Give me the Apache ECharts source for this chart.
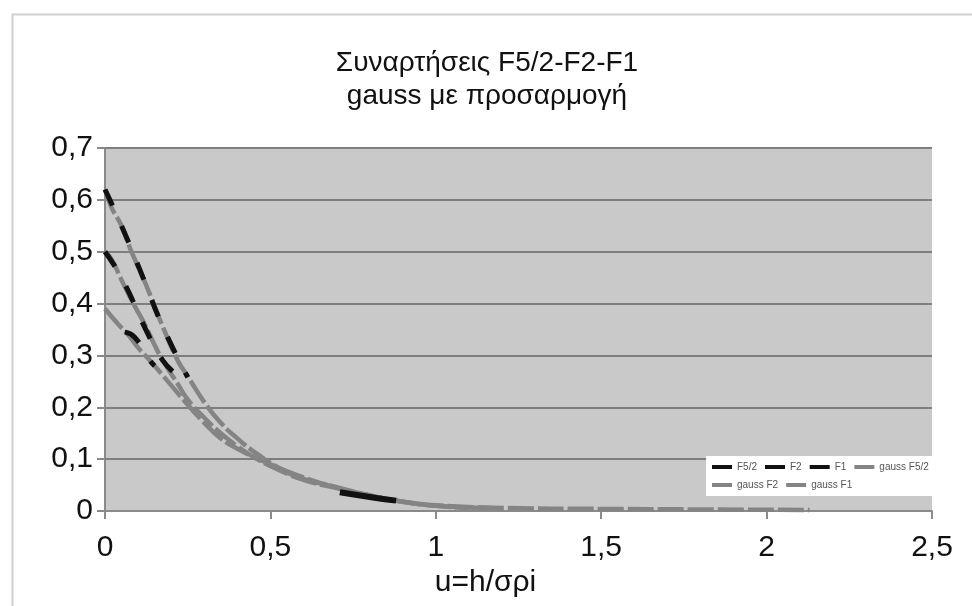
<!DOCTYPE html>
<html>
<head>
<meta charset="utf-8">
<script src="https://cdn.jsdelivr.net/npm/echarts@6/dist/echarts.min.js"></script>
<style>
  html, body { margin: 0; padding: 0; background: #ffffff; }
  #chart { width: 972px; height: 606px; }
</style>
</head>
<body>
<div id="chart"></div>
<script>
// Axis ticks
const xTicks = [0, 0.5, 1, 1.5, 2, 2.5];
const yTicks = [0, 0.1, 0.2, 0.3, 0.4, 0.5, 0.6, 0.7];

// Gauss fits (u, F)
const fitU_F52 = [0, 0.02, 0.05, 0.08, 0.115, 0.15, 0.175, 0.22, 0.25, 0.3, 0.35, 0.4, 0.46, 0.54, 0.6, 0.7, 0.8, 0.9, 1.0, 1.2, 1.5, 1.8, 2.13];
const fitF_F52 = [0.62, 0.585, 0.55, 0.5, 0.45, 0.395, 0.355, 0.29, 0.26, 0.21, 0.17, 0.14, 0.11, 0.078, 0.062, 0.046, 0.03, 0.018, 0.011, 0.006, 0.004, 0.003, 0.002];

const fitU_F2 = [0, 0.02, 0.054, 0.09, 0.12, 0.15, 0.175, 0.22, 0.25, 0.3, 0.35, 0.4, 0.46, 0.54, 0.6, 0.7, 0.8, 0.9, 1.0, 1.2];
const fitF_F2 = [0.5, 0.485, 0.44, 0.395, 0.36, 0.32, 0.29, 0.245, 0.215, 0.18, 0.15, 0.125, 0.1, 0.075, 0.06, 0.044, 0.03, 0.018, 0.01, 0.005];

const fitU_F1 = [0, 0.04, 0.07, 0.1, 0.136, 0.19, 0.25, 0.3, 0.35, 0.4, 0.5, 0.6, 0.7, 0.8, 0.9, 1.0, 1.1];
const fitF_F1 = [0.39, 0.36, 0.34, 0.315, 0.29, 0.25, 0.205, 0.17, 0.14, 0.12, 0.09, 0.065, 0.045, 0.03, 0.018, 0.01, 0.006];

// Computed functions (u, F)
const calcU_F52 = [0, 0.05, 0.115, 0.175, 0.25];
const calcF_F52 = [0.62, 0.55, 0.45, 0.355, 0.258];
const tailU_F52 = [0.71, 0.8, 0.88];
const tailF_F52 = [0.036, 0.027, 0.02];

const calcU_F2 = [0, 0.054, 0.127, 0.175, 0.218];
const calcF_F2 = [0.5, 0.445, 0.345, 0.29, 0.262];

const calcU_F1 = [0.06, 0.09, 0.136, 0.15];
const calcF_F1 = [0.345, 0.335, 0.29, 0.28];

const zip = (u, f) => u.map((x, i) => [x, f[i]]);
const comma = v => String(v).replace('.', ',');

const fitLine = (name, u, f) => ({
  name, type: 'line', data: zip(u, f), showSymbol: false, smooth: true,
  lineStyle: { color: '#848484', width: 4.5, type: [26, 4] }, itemStyle: { color: '#848484' }, z: 2
});
const calcLine = (name, u, f, dash, width) => ({
  name, type: 'line', data: zip(u, f), showSymbol: false, smooth: true,
  lineStyle: { color: '#111111', width: width || 5, type: dash }, itemStyle: { color: '#111111' }, z: 3
});

const chart = echarts.init(document.getElementById('chart'));
chart.setOption({
  backgroundColor: '#ffffff',
  animation: false,
  textStyle: { fontFamily: 'Liberation Sans, Arial, sans-serif' },
  title: {
    text: 'Συναρτήσεις F5/2-F2-F1\ngauss με προσαρμογή',
    left: 482, top: 42, textAlign: 'center',
    textStyle: { fontSize: 28, fontWeight: 'normal', color: '#111111', lineHeight: 33 }
  },
  legend: {
    left: 706, top: 456, width: 224, itemWidth: 20, itemHeight: 4, itemGap: 8,
    icon: 'rect',
    backgroundColor: '#ffffff', padding: [6, 6],
    textStyle: { fontSize: 10, color: '#555555' },
    data: ['F5/2', 'F2', 'F1', 'gauss F5/2', 'gauss F2', 'gauss F1']
  },
  graphic: [{
    type: 'rect', left: 10, top: 12, shape: { width: 980, height: 620 },
    style: { fill: 'none', stroke: '#cfcfcf', lineWidth: 2 }, silent: true, z: -1
  }],
  grid: {
    left: 105, right: 40, top: 148, bottom: 95,
    show: true, backgroundColor: '#c9c9c9', borderWidth: 0
  },
  xAxis: {
    type: 'value', min: xTicks[0], max: xTicks[xTicks.length - 1], interval: 0.5,
    name: 'u=h/σρi', nameLocation: 'middle', nameGap: 48,
    nameTextStyle: { fontSize: 30, color: '#111111', verticalAlign: 'top', padding: [0, 66, 0, 0] },
    axisLine: { show: true, lineStyle: { color: '#8a8a8a', width: 2 } },
    axisTick: { show: true, length: 8, lineStyle: { color: '#8a8a8a', width: 2 } },
    axisLabel: { fontSize: 30, color: '#111111', margin: 22, formatter: comma },
    splitLine: { show: false }
  },
  yAxis: {
    type: 'value', min: yTicks[0], max: yTicks[yTicks.length - 1], interval: 0.1,
    axisLine: { show: true, lineStyle: { color: '#8a8a8a', width: 2 } },
    axisTick: { show: true, length: 8, lineStyle: { color: '#8a8a8a', width: 2 } },
    axisLabel: { fontSize: 30, color: '#111111', margin: 12, formatter: v => comma(+v.toFixed(1)) },
    splitLine: { show: true, lineStyle: { color: '#7e7e7e', width: 2 } }
  },
  series: [
    fitLine('gauss F5/2', fitU_F52, fitF_F52),
    fitLine('gauss F2', fitU_F2, fitF_F2),
    fitLine('gauss F1', fitU_F1, fitF_F1),
    calcLine('F5/2', calcU_F52, calcF_F52, [18, 22]),
    calcLine('F5/2', tailU_F52, tailF_F52, 'solid', 6),
    calcLine('F2', calcU_F2, calcF_F2, [18, 22]),
    calcLine('F1', calcU_F1, calcF_F1, [18, 22])
  ]
});
</script>
</body>
</html>
